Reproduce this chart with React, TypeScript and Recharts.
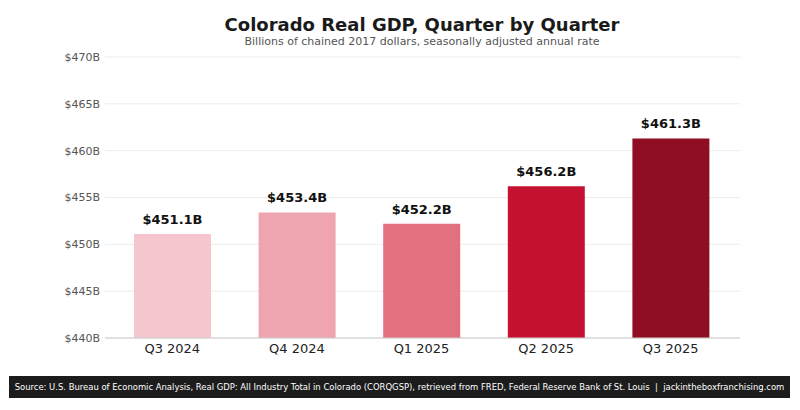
import { Bar, BarChart, CartesianGrid, XAxis, YAxis, Cell, LabelList } from "recharts";

const quarters = ["Q3 2024", "Q4 2024", "Q1 2025", "Q2 2025", "Q3 2025"];
const gdpBillions = [451.1, 453.4, 452.2, 456.2, 461.3];
const barColors = ["#f5c6cd", "#eea5b0", "#e2707f", "#c41230", "#8f0e23"];
const yTicks = [440, 445, 450, 455, 460, 465, 470];

const chartData = quarters.map((q, i) => ({ quarter: q, gdp: gdpBillions[i] }));

const font = "'DejaVu Sans', sans-serif";

export default function App() {
  return (
    <div style={{ position: "absolute", left: 0, top: 0, width: 800, height: 410, background: "#fff", fontFamily: font }}>
      <div style={{ position: "absolute", left: 0, width: 844, top: 14, textAlign: "center", fontSize: 18, fontWeight: "bold", color: "#1a1a1a" }}>
        Colorado Real GDP, Quarter by Quarter
      </div>
      <div style={{ position: "absolute", left: 0, width: 844, top: 35, textAlign: "center", fontSize: 11, color: "#555" }}>
        Billions of chained 2017 dollars, seasonally adjusted annual rate
      </div>
      <BarChart width={800} height={410} data={chartData} margin={{ top: 57, right: 60, bottom: 42, left: 0 }}>
        <CartesianGrid vertical={false} stroke="#ececec" />
        <XAxis
          dataKey="quarter"
          height={30}
          tickLine={false}
          tickSize={4}
          axisLine={{ stroke: "#cccccc" }}
          padding={{ left: 5, right: 7 }}
          tick={{ fill: "#222", fontSize: 13, fontFamily: font }}
        />
        <YAxis
          width={105}
          domain={[440, 470]}
          ticks={yTicks}
          tickLine={false}
          axisLine={false}
          tickSize={0}
          tickMargin={5}
          tickFormatter={(v) => `$${v}B`}
          tick={{ fill: "#555", fontSize: 11, fontFamily: font }}
        />
        <Bar dataKey="gdp" barSize={77} isAnimationActive={false}>
          {chartData.map((entry, index) => (
            <Cell key={`cell-${index}`} fill={barColors[index]} />
          ))}
          <LabelList
            dataKey="gdp"
            position="top"
            offset={10}
            formatter={(v: number) => `$${v.toFixed(1)}B`}
            style={{ fill: "#111", fontSize: 13, fontWeight: "bold", fontFamily: font }}
          />
        </Bar>
      </BarChart>
      <div
        style={{
          position: "absolute",
          left: 9,
          top: 376,
          width: 781,
          height: 22,
          background: "#1c1c1c",
          color: "#fff",
          fontSize: 9.4,
          fontFamily: "'DejaVu Sans Condensed', 'DejaVu Sans', sans-serif",
          lineHeight: "22px",
          textAlign: "center",
          whiteSpace: "pre",
        }}
      >
        {"Source: U.S. Bureau of Economic Analysis, Real GDP: All Industry Total in Colorado (CORQGSP), retrieved from FRED, Federal Reserve Bank of St. Louis  |  jackintheboxfranchising.com"}
      </div>
    </div>
  );
}
